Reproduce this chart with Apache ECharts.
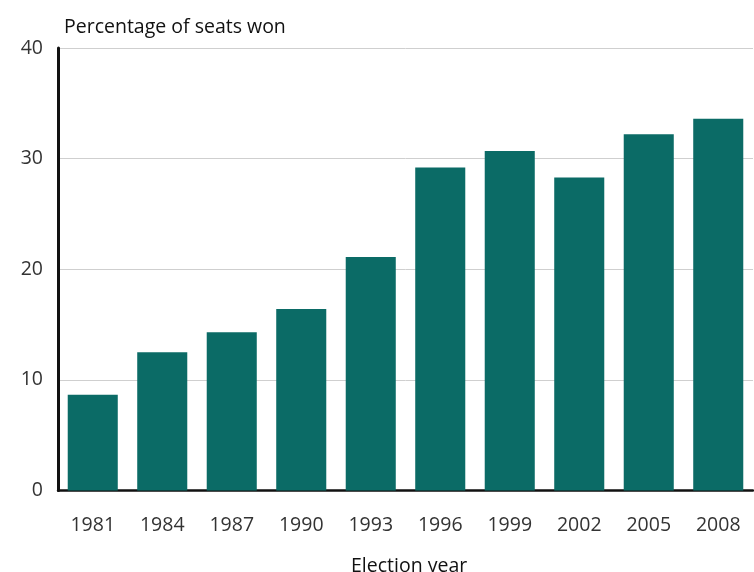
<!DOCTYPE html>
<html>
<head>
<meta charset="utf-8">
<style>
  html, body { margin: 0; padding: 0; background: #fff; }
  #chart { width: 754px; height: 572px; }
</style>
<script src="https://cdn.jsdelivr.net/npm/echarts@6/dist/echarts.min.js"></script>
</head>
<body>
<div id="chart"></div>
<script>
// Election years and share of seats won (%)
const years = ['1981', '1984', '1987', '1990', '1993', '1996', '1999', '2002', '2005', '2008'];
const seatShare = [8.65, 12.5, 14.3, 16.4, 21.1, 29.2, 30.7, 28.3, 32.2, 33.6];
const yTicks = [0, 10, 20, 30, 40];

const chart = echarts.init(document.getElementById('chart'), null, { renderer: 'canvas' });
const fontFamily = '"Open Sans", "Noto Sans", sans-serif';

chart.setOption({
  animation: false,
  backgroundColor: '#ffffff',
  grid: { left: 58, right: 1, top: 48, bottom: 81.5, containLabel: false },
  title: [
    {
      text: 'Percentage of seats won',
      left: 59, top: 12,
      textStyle: { fontFamily, fontSize: 19.5, fontWeight: 'normal', color: '#111' }
    },
    {
      text: 'Election year',
      left: 346, top: 551,
      textStyle: { fontFamily, fontSize: 19.5, fontWeight: 500, color: '#111' }
    }
  ],
  xAxis: {
    type: 'category',
    data: years,
    axisLine: { show: true, lineStyle: { color: '#111', width: 2.5 } },
    axisTick: { show: false },
    axisLabel: { fontFamily, fontSize: 19.5, color: '#333', margin: 25 }
  },
  yAxis: {
    type: 'value',
    min: yTicks[0],
    max: yTicks[yTicks.length - 1],
    interval: 10,
    axisLine: { show: true, lineStyle: { color: '#111', width: 3 } },
    axisTick: { show: false },
    axisLabel: { fontFamily, fontSize: 19.5, color: '#333', margin: 15, padding: [4, 0, 0, 0] },
    splitLine: { show: true, lineStyle: { color: '#cfcfcf', width: 1 } }
  },
  series: [{
    type: 'bar',
    data: seatShare,
    barCategoryGap: '28%',
    itemStyle: { color: '#0b6b66' }
  }]
});
</script>
</body>
</html>
